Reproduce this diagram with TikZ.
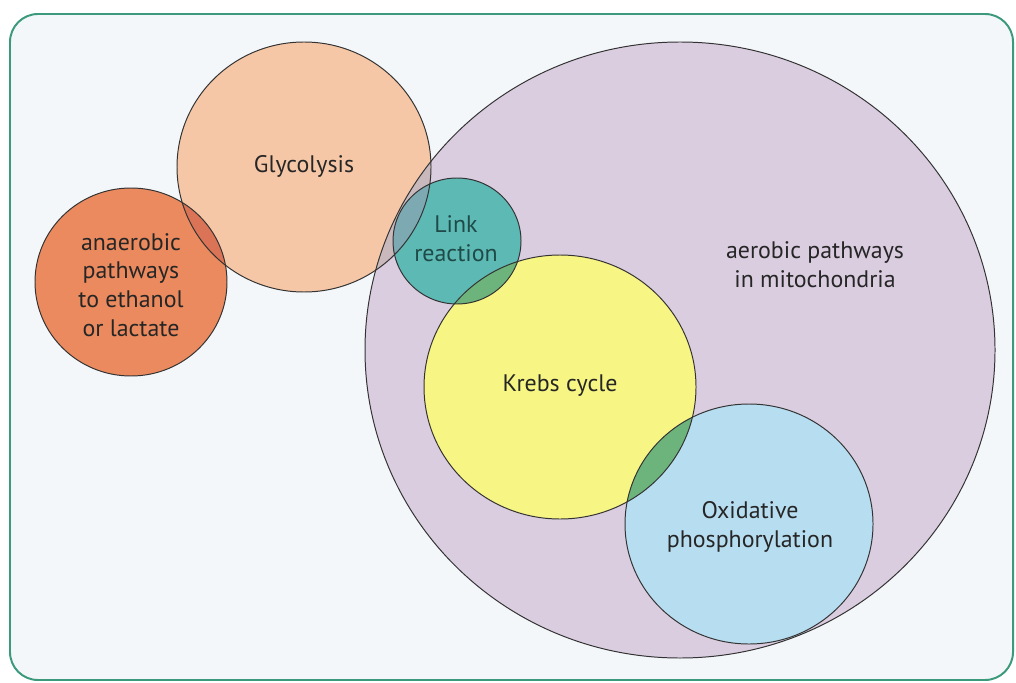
\documentclass[tikz,border=0pt]{standalone}
\usepackage{fontspec}
\setmainfont{PT Sans}
\usepackage{xcolor}
\definecolor{paper}{HTML}{F4F7F9}
\definecolor{framegreen}{HTML}{3C9A7C}
\definecolor{anaer}{HTML}{EB8A5E}
\definecolor{glyco}{HTML}{F5C7A6}
\definecolor{linkc}{HTML}{5CB9B4}
\definecolor{aerob}{HTML}{DACDE0}
\definecolor{krebs}{HTML}{F7F583}
\definecolor{oxid}{HTML}{B7DDF1}
\definecolor{anglyc}{HTML}{DB7456}
\definecolor{glaer}{HTML}{C9B9BD}
\definecolor{gllink}{HTML}{7DA9B3}
\definecolor{mixgreen}{HTML}{6DB47C}
\definecolor{darkteal}{HTML}{1F4A48}
\tikzstyle{ring}=[draw=black!80, line width=0.7pt]
\tikzstyle{txt}=[font=\fontsize{17}{20.5}\selectfont, text=black!85, align=center]
\def\aerpath{(680,350) ellipse [x radius=315, y radius=308]}
\def\glypath{(304,167) ellipse [x radius=127, y radius=125]}
\def\anapath{(131,282) ellipse [x radius=96, y radius=94]}
\def\linkpath{(457,241) ellipse [x radius=64, y radius=63]}
\def\krebspath{(560,387) ellipse [x radius=136, y radius=132]}
\def\oxpath{(749,524) ellipse [x radius=124, y radius=120]}

\begin{document}
\begin{tikzpicture}[x=0.025cm, y=-0.025cm]
\useasboundingbox (0,0) rectangle (1016,682);
\fill[white] (0,0) rectangle (1016,682);
\draw[framegreen, line width=1.4pt, rounded corners=0.7cm, fill=paper] (10,14) rectangle (1013,680);
% fills, back to front
\fill[aerob] \aerpath;
\fill[glyco] \glypath;
\fill[anaer] \anapath;
\fill[linkc] \linkpath;
\fill[krebs] \krebspath;
\fill[oxid] \oxpath;
% overlaps
\begin{scope}
 \clip \glypath;
 \fill[glaer] \aerpath;
 \fill[anglyc] \anapath;
 \fill[gllink] \linkpath;
\end{scope}
\begin{scope}
 \clip \krebspath;
 \fill[mixgreen] \linkpath;
 \fill[mixgreen] \oxpath;
\end{scope}
% outlines
\draw[ring] \aerpath;
\draw[ring] \glypath;
\draw[ring] \anapath;
\draw[ring] \linkpath;
\draw[ring] \krebspath;
\draw[ring] \oxpath;
% labels
\node[txt] (glyc) at (304,166) {Glycolysis};
\node[txt] (anaerobic) at (131,285) {anaerobic\\pathways\\to ethanol\\or lactate};
\node[txt, text=darkteal] (linkr) at (456,239) {Link\\reaction};
\node[txt] (aerobic) at (815,265) {aerobic pathways\\in mitochondria};
\node[txt] (krebscyc) at (560,386) {Krebs cycle};
\node[txt] (oxphos) at (750,527) {Oxidative\\phosphorylation};
\end{tikzpicture}
\end{document}
